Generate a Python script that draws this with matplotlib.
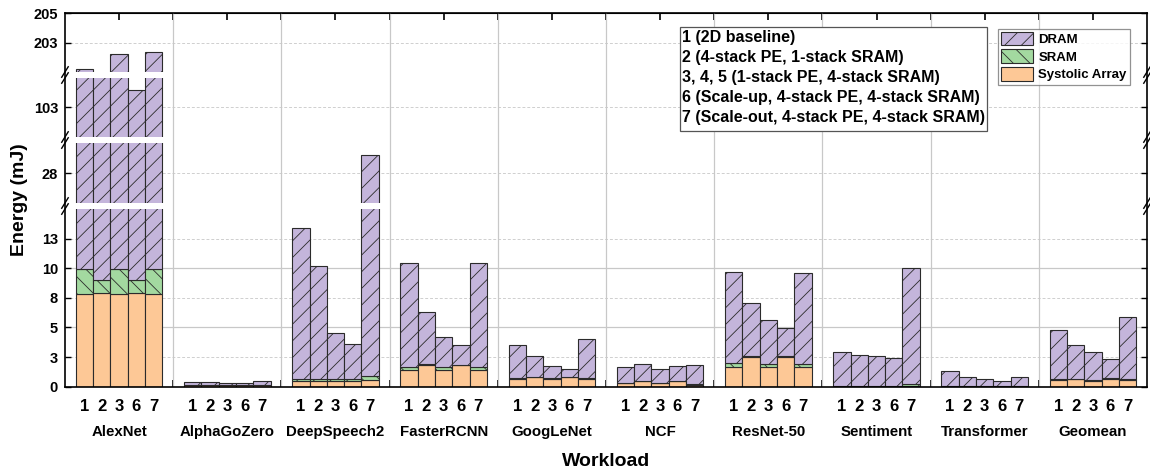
import numpy as np
import matplotlib
matplotlib.use('Agg')
import matplotlib.pyplot as plt
import matplotlib.transforms as mtransforms
from matplotlib.patches import Patch, Rectangle

plt.rcParams['font.family'] = ['Liberation Sans', 'DejaVu Sans']
plt.rcParams['font.weight'] = 'bold'
plt.rcParams['hatch.linewidth'] = 0.6

# workloads and configurations
workloads = ['AlexNet', 'AlphaGoZero', 'DeepSpeech2', 'FasterRCNN', 'GoogLeNet',
             'NCF', 'ResNet-50', 'Sentiment', 'Transformer', 'Geomean']
configs = ['1', '2', '3', '6', '7']

# energy (mJ) per workload, one value per config
systolic = [[7.8, 7.94, 7.8, 7.94, 7.8],
            [0.12, 0.15, 0.12, 0.15, 0.12],
            [0.5, 0.5, 0.5, 0.5, 0.56],
            [1.41, 1.86, 1.41, 1.8, 1.41],
            [0.68, 0.82, 0.68, 0.79, 0.68],
            [0.28, 0.45, 0.28, 0.48, 0.17],
            [1.69, 2.48, 1.69, 2.48, 1.69],
            [0.03, 0.03, 0.03, 0.03, 0.05],
            [0.03, 0.08, 0.03, 0.08, 0.03],
            [0.56, 0.65, 0.51, 0.68, 0.56]]
sram = [[2.14, 1.04, 2.14, 1.04, 2.14],
        [0.02, 0.02, 0.02, 0.02, 0.02],
        [0.18, 0.12, 0.15, 0.12, 0.34],
        [0.25, 0.05, 0.25, 0.05, 0.22],
        [0.05, 0.03, 0.05, 0.03, 0.05],
        [0.02, 0.02, 0.02, 0.02, 0.02],
        [0.28, 0.1, 0.25, 0.1, 0.25],
        [0.05, 0.04, 0.04, 0.04, 0.15],
        [0.01, 0.01, 0.01, 0.01, 0.01],
        [0.09, 0.04, 0.08, 0.04, 0.09]]
total = [[201.2, 150.0, 202.25, 104.2, 202.35],
         [0.37, 0.37, 0.31, 0.28, 0.45],
         [13.43, 10.17, 4.53, 3.6, 29.2],
         [10.45, 6.33, 4.2, 3.5, 10.48],
         [3.52, 2.59, 1.75, 1.49, 4.03],
         [1.64, 1.89, 1.53, 1.72, 1.8],
         [9.66, 7.04, 5.61, 4.93, 9.57],
         [2.96, 2.68, 2.62, 2.39, 10.05],
         [1.3, 0.79, 0.62, 0.45, 0.79],
         [4.79, 3.49, 2.9, 2.31, 5.89]]

legend_lines = ['1 (2D baseline)',
                '2 (4-stack PE, 1-stack SRAM)',
                '3, 4, 5 (1-stack PE, 4-stack SRAM)',
                '6 (Scale-up, 4-stack PE, 4-stack SRAM)',
                '7 (Scale-out, 4-stack PE, 4-stack SRAM)']

ytick_vals = [0, 2.5, 5, 7.5, 10, 12.5, 28, 103, 203, 205]
ytick_labels = ['0', '3', '5', '8', '10', '13', '28', '103', '203', '205']

# broken y axis as a piecewise linear scale
seg_data = [0, 15, 26, 30, 101, 105, 201, 205]
seg_virt = [0, 177.7, 183.7, 243.7, 249.7, 308.7, 314.7, 373.4]
breaks = [(15, 26), (30, 101), (105, 201)]


def fwd(v):
    return np.interp(v, seg_data, seg_virt)


def inv(v):
    return np.interp(v, seg_virt, seg_data)


c_sa = '#FDC896'
c_sram = '#A3D9A0'
c_dram = '#C4B5DB'
ec = '#2b2b2b'

sa = np.array(systolic)
sr = np.array(sram)
dram = np.array(total) - sa - sr

fig, ax = plt.subplots(figsize=(11.5, 4.73), dpi=100)
fig.subplots_adjust(left=0.0565, right=0.9974, bottom=0.1824, top=0.9719)
ax.set_yscale('function', functions=(fwd, inv))
ax.set_ylim(0, 205)
ax.set_xlim(-0.5, len(workloads) - 0.5)

x = np.arange(len(workloads))
w = 0.16
bar_pos = []
for j in range(len(configs)):
    xs = x + (j - 2) * w
    bar_pos.append(xs)
    ax.bar(xs, sa[:, j], w, color=c_sa, edgecolor=ec, lw=0.8, zorder=2)
    ax.bar(xs, sr[:, j], w, bottom=sa[:, j], color=c_sram, edgecolor=ec,
           hatch='\\\\', lw=0.8, zorder=2)
    ax.bar(xs, dram[:, j], w, bottom=sa[:, j] + sr[:, j], color=c_dram,
           edgecolor=ec, hatch='//', lw=0.8, zorder=2)

# white gaps at the breaks
for lo, hi in breaks:
    ax.axhspan(lo, hi, color='white', lw=0, zorder=3)

# grid
for yv in [2.5, 7.5, 12.5, 28, 103, 203]:
    ax.axhline(yv, color='#cfcfcf', lw=0.7, ls=(0, (3, 2)), zorder=0)
for yv in [5, 10]:
    ax.axhline(yv, color='#c8c8c8', lw=0.9, zorder=0)
for i in range(len(workloads) - 1):
    ax.axvline(i + 0.5, color='#c8c8c8', lw=0.9, zorder=4)

for s in ax.spines.values():
    s.set_linewidth(1.2)
    s.set_zorder(5)

# ticks
ax.set_yticks(ytick_vals, labels=ytick_labels)
ax.yaxis.set_minor_locator(matplotlib.ticker.NullLocator())
ax.tick_params(axis='y', direction='in', length=4, width=1, right=True,
               labelsize=10.5, pad=5)

pos = np.sort(np.concatenate(bar_pos))
labels = configs * len(workloads)
ax.set_xticks(pos, labels=labels)
ax.tick_params(axis='x', which='major', length=0, pad=9, labelsize=12)
ax.set_xticks(x[:-1] + 0.5, minor=True)
ax.tick_params(axis='x', which='minor', direction='in', length=5, width=1.2)

top = ax.secondary_xaxis('top')
top.set_xticks(np.concatenate([x, x[:-1] + 0.5]))
top.tick_params(direction='in', length=5, width=1.2, labeltop=False)

# break marks on both spines
for lo, hi in breaks:
    for yv in (fwd(lo), fwd(hi)):
        yf = yv / seg_virt[-1]
        for xf in (0, 1):
            ax.plot([xf - 0.003, xf + 0.003], [yf - 0.014, yf + 0.014],
                    transform=ax.transAxes, color='black', lw=1,
                    clip_on=False, zorder=6)

# workload names
trans = mtransforms.blended_transform_factory(ax.transData, ax.transAxes)
for i, name in enumerate(workloads):
    ax.text(i, -0.12, name, transform=trans, ha='center', va='center',
            fontsize=10.8, fontweight='bold')

ax.set_xlabel('Workload', fontsize=14, fontweight='bold')
ax.xaxis.set_label_coords(0.5, -0.178)
ax.set_ylabel('Energy (mJ)', fontsize=14, fontweight='bold')
ax.yaxis.set_label_coords(-0.034, 0.5)

# config legend box
ax.add_patch(Rectangle((0.5684, 0.6848), 0.2837, 0.2785, transform=ax.transAxes,
                       fc='white', ec='#555555', lw=0.9, zorder=7))
for k, line in enumerate(legend_lines):
    ax.text(0.5705, 0.9365 - k * 0.0536, line, transform=ax.transAxes,
            ha='left', va='center', fontsize=11.5, fontweight='bold', zorder=8)

handles = [Patch(facecolor=c_dram, edgecolor=ec, hatch='//', lw=0.8, label='DRAM'),
           Patch(facecolor=c_sram, edgecolor=ec, hatch='\\\\', lw=0.8, label='SRAM'),
           Patch(facecolor=c_sa, edgecolor=ec, lw=0.8, label='Systolic Array')]
leg = ax.legend(handles=handles, loc='upper left', bbox_to_anchor=(0.8623, 0.9588),
                fontsize=9.5, frameon=True, fancybox=False, borderpad=0.25,
                labelspacing=0.25, handlelength=2.4, handleheight=1.2,
                handletextpad=0.4, borderaxespad=0)
leg.get_frame().set_edgecolor('#777777')
leg.get_frame().set_linewidth(0.9)
leg.set_zorder(8)

fig.savefig('out.png', dpi=100)
